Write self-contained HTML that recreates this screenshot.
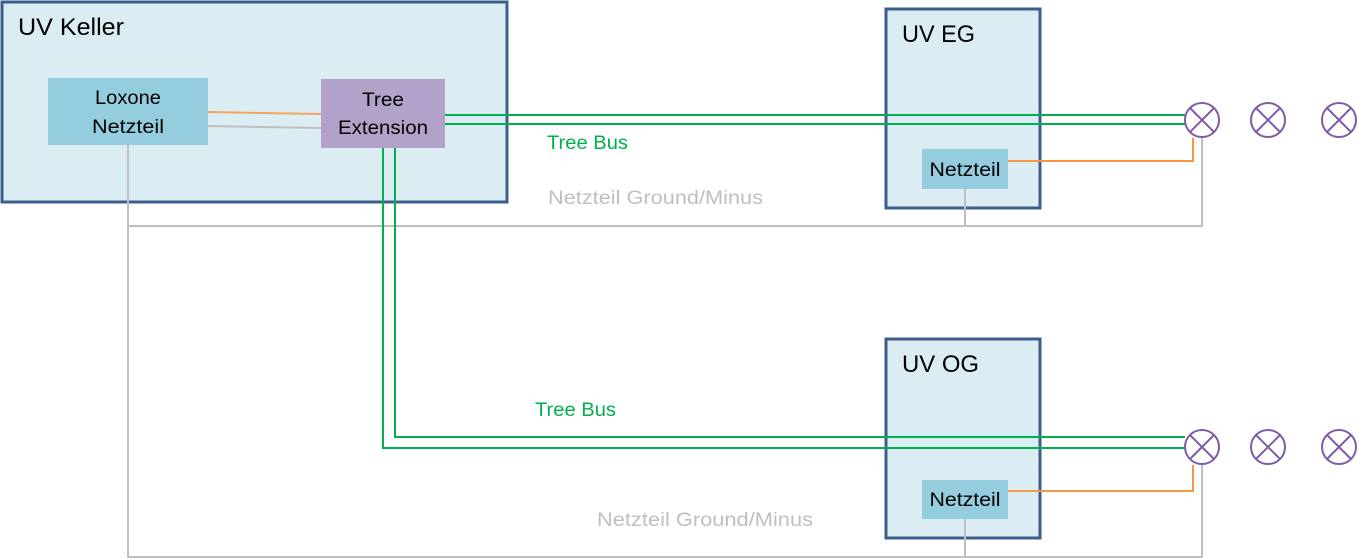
<!DOCTYPE html>
<html><head><meta charset="utf-8"><style>
body{margin:0;background:#fff;}
svg{display:block;font-family:"Liberation Sans",sans-serif;}
</style></head><body>
<svg width="1359" height="559" viewBox="0 0 1359 559" xmlns="http://www.w3.org/2000/svg">
<rect x="2" y="2" width="505" height="200" fill="#DBEDF3" stroke="#3B5E8C" stroke-width="3"/>
<text x="18" y="35" font-size="24" textLength="106" lengthAdjust="spacingAndGlyphs" fill="#000">UV Keller</text>
<rect x="886" y="9" width="154" height="199" fill="#DBEDF3" stroke="#3B5E8C" stroke-width="3"/>
<text x="902" y="42" font-size="24" textLength="73" lengthAdjust="spacingAndGlyphs" fill="#000">UV EG</text>
<rect x="886" y="339" width="154" height="199" fill="#DBEDF3" stroke="#3B5E8C" stroke-width="3"/>
<text x="902" y="372" font-size="24" textLength="77" lengthAdjust="spacingAndGlyphs" fill="#000">UV OG</text>
<g fill="none" stroke-width="2">
<path d="M128 145V557H1202V465" stroke="#BFBFBF"/>
<path d="M128 226H1202V137" stroke="#BFBFBF"/>
<path d="M965 189V226M965 519V557" stroke="#BFBFBF"/>
<path d="M208 126L321 128" stroke="#BFBFBF"/>
<path d="M208 112L321 114" stroke="#F4A460"/>
<path d="M1008 161H1193V138M1008 491H1193V465" stroke="#F79646"/>
<path d="M445 115H1185M445 124H1185" stroke="#00B050"/>
<path d="M395 148V437H1185M383 148V448H1185" stroke="#00B050"/>
</g>
<rect x="48" y="78" width="160" height="67" fill="#94CDDD"/>
<text x="128" y="104" font-size="19" text-anchor="middle" textLength="66" lengthAdjust="spacingAndGlyphs">Loxone</text>
<text x="128" y="133" font-size="19" text-anchor="middle" textLength="72" lengthAdjust="spacingAndGlyphs">Netzteil</text>
<rect x="321" y="79" width="124" height="69" fill="#B1A2C9"/>
<text x="383" y="106" font-size="19" text-anchor="middle" textLength="42" lengthAdjust="spacingAndGlyphs">Tree</text>
<text x="383" y="134" font-size="19" text-anchor="middle" textLength="90" lengthAdjust="spacingAndGlyphs">Extension</text>
<rect x="922" y="149" width="86" height="40" fill="#94CDDD"/>
<text x="965" y="176" font-size="19" text-anchor="middle" textLength="71" lengthAdjust="spacingAndGlyphs">Netzteil</text>
<rect x="922" y="480" width="86" height="39" fill="#94CDDD"/>
<text x="965" y="506" font-size="19" text-anchor="middle" textLength="71" lengthAdjust="spacingAndGlyphs">Netzteil</text>
<text x="547" y="149" font-size="19" fill="#00B050" textLength="81" lengthAdjust="spacingAndGlyphs">Tree Bus</text>
<text x="548" y="204" font-size="19" fill="#BFBFBF" textLength="215" lengthAdjust="spacingAndGlyphs">Netzteil Ground/Minus</text>
<text x="535" y="416" font-size="19" fill="#00B050" textLength="81" lengthAdjust="spacingAndGlyphs">Tree Bus</text>
<text x="597" y="526" font-size="19" fill="#BFBFBF" textLength="216" lengthAdjust="spacingAndGlyphs">Netzteil Ground/Minus</text>
<g fill="#fff" stroke="#7E5CA6" stroke-width="2">
<g transform="translate(1202,120)"><circle r="17"/><path d="M-12 -12L12 12M-12 12L12 -12"/></g>
<g transform="translate(1268,120)"><circle r="17"/><path d="M-12 -12L12 12M-12 12L12 -12"/></g>
<g transform="translate(1339,120)"><circle r="17"/><path d="M-12 -12L12 12M-12 12L12 -12"/></g>
<g transform="translate(1202,447)"><circle r="17"/><path d="M-12 -12L12 12M-12 12L12 -12"/></g>
<g transform="translate(1268,447)"><circle r="17"/><path d="M-12 -12L12 12M-12 12L12 -12"/></g>
<g transform="translate(1339,447)"><circle r="17"/><path d="M-12 -12L12 12M-12 12L12 -12"/></g>
</g>
</svg>
</body></html>
